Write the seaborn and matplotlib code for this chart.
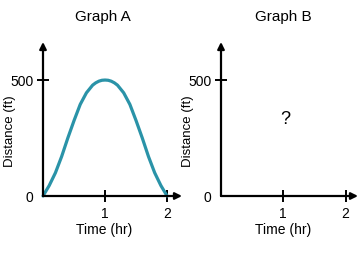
import numpy as np
import pandas as pd
import matplotlib
matplotlib.use("Agg")
import matplotlib.pyplot as plt
import seaborn as sns

# Data
time_hr = [0.0, 0.1, 0.2, 0.3, 0.4, 0.5, 0.6, 0.7, 0.8, 0.85, 0.9, 0.95, 1.0,
           1.05, 1.1, 1.15, 1.2, 1.3, 1.4, 1.5, 1.6, 1.7, 1.8, 1.9, 2.0]
distance_ft = [0, 45, 100, 170, 250, 325, 395, 445, 478, 488, 495, 499, 500,
               499, 495, 488, 478, 445, 395, 325, 250, 170, 100, 45, 0]
x_ticks = [1, 2]
y_ticks = [0, 500]
titles = ["Graph A", "Graph B"]
x_label = "Time (hr)"
y_label = "Distance (ft)"
unknown_mark = "?"
unknown_pos = (1.03, 328)

sns.set_theme(style="white")
plt.rcParams['font.family'] = ['Liberation Sans', 'DejaVu Sans']

fig = plt.figure(figsize=(3.6, 2.7), dpi=100)
W, H = 360, 270
line_color = "#2a93a8"

def make_axes(left_px, width_px, xmax):
    ax = fig.add_axes([left_px / W, 74 / H, width_px / W, 154 / H])
    ax.set_xlim(0, xmax)
    ax.set_ylim(0, 664)
    for s in ax.spines.values():
        s.set_visible(False)
    ax.annotate("", xy=(1, 0), xytext=(0, 0), xycoords="axes fraction",
                arrowprops=dict(arrowstyle="-|>", color="black", lw=1.6,
                                mutation_scale=10, shrinkA=0, shrinkB=0))
    ax.annotate("", xy=(0, 1), xytext=(0, 0), xycoords="axes fraction",
                arrowprops=dict(arrowstyle="-|>", color="black", lw=1.6,
                                mutation_scale=10, shrinkA=0, shrinkB=0))
    ax.set_xticks(x_ticks)
    ax.set_xticklabels([str(v) for v in x_ticks])
    ax.set_yticks(y_ticks)
    ax.set_yticklabels([str(v) for v in y_ticks])
    ax.tick_params(axis="both", direction="inout", length=8, width=1.4,
                   color="black", labelsize=10, labelcolor="black",
                   left=True, bottom=True)
    ax.tick_params(axis="y", pad=3)
    ax.tick_params(axis="x", pad=4)
    ax.yaxis.get_major_ticks()[0].tick1line.set_visible(False)
    ax.set_facecolor("none")
    return ax

axA = make_axes(43, 139, 2.24)
df = pd.DataFrame({"time": time_hr, "distance": distance_ft})
sns.lineplot(data=df, x="time", y="distance", ax=axA, color=line_color,
             lw=2.3, clip_on=False)

axB = make_axes(221, 137, 2.2)
axB.text(unknown_pos[0], unknown_pos[1], unknown_mark, fontsize=13,
         ha="center", va="center", color="black")

for ax, left_px, width_px, xc in [(axA, 43, 139, 104), (axB, 221, 137, 283)]:
    ax.set_xlabel(x_label, fontsize=10, color="black")
    ax.set_ylabel(y_label, fontsize=9.5, color="black")
    ax.xaxis.set_label_coords((xc - left_px) / width_px, (196 - 230) / 154)
    ylab_x = 10 if left_px < 100 else 188
    ax.yaxis.set_label_coords((ylab_x - left_px) / width_px, (196 - 131) / 154)
    ax.xaxis.label.set_va("center")
    ax.yaxis.label.set_va("center")

fig.text(103 / W, 1 - 17 / H, titles[0], ha="center", va="center",
         fontsize=11, color="black")
fig.text(283 / W, 1 - 17 / H, titles[1], ha="center", va="center",
         fontsize=11, color="black")

fig.savefig("out.png", dpi=100, facecolor="white")
